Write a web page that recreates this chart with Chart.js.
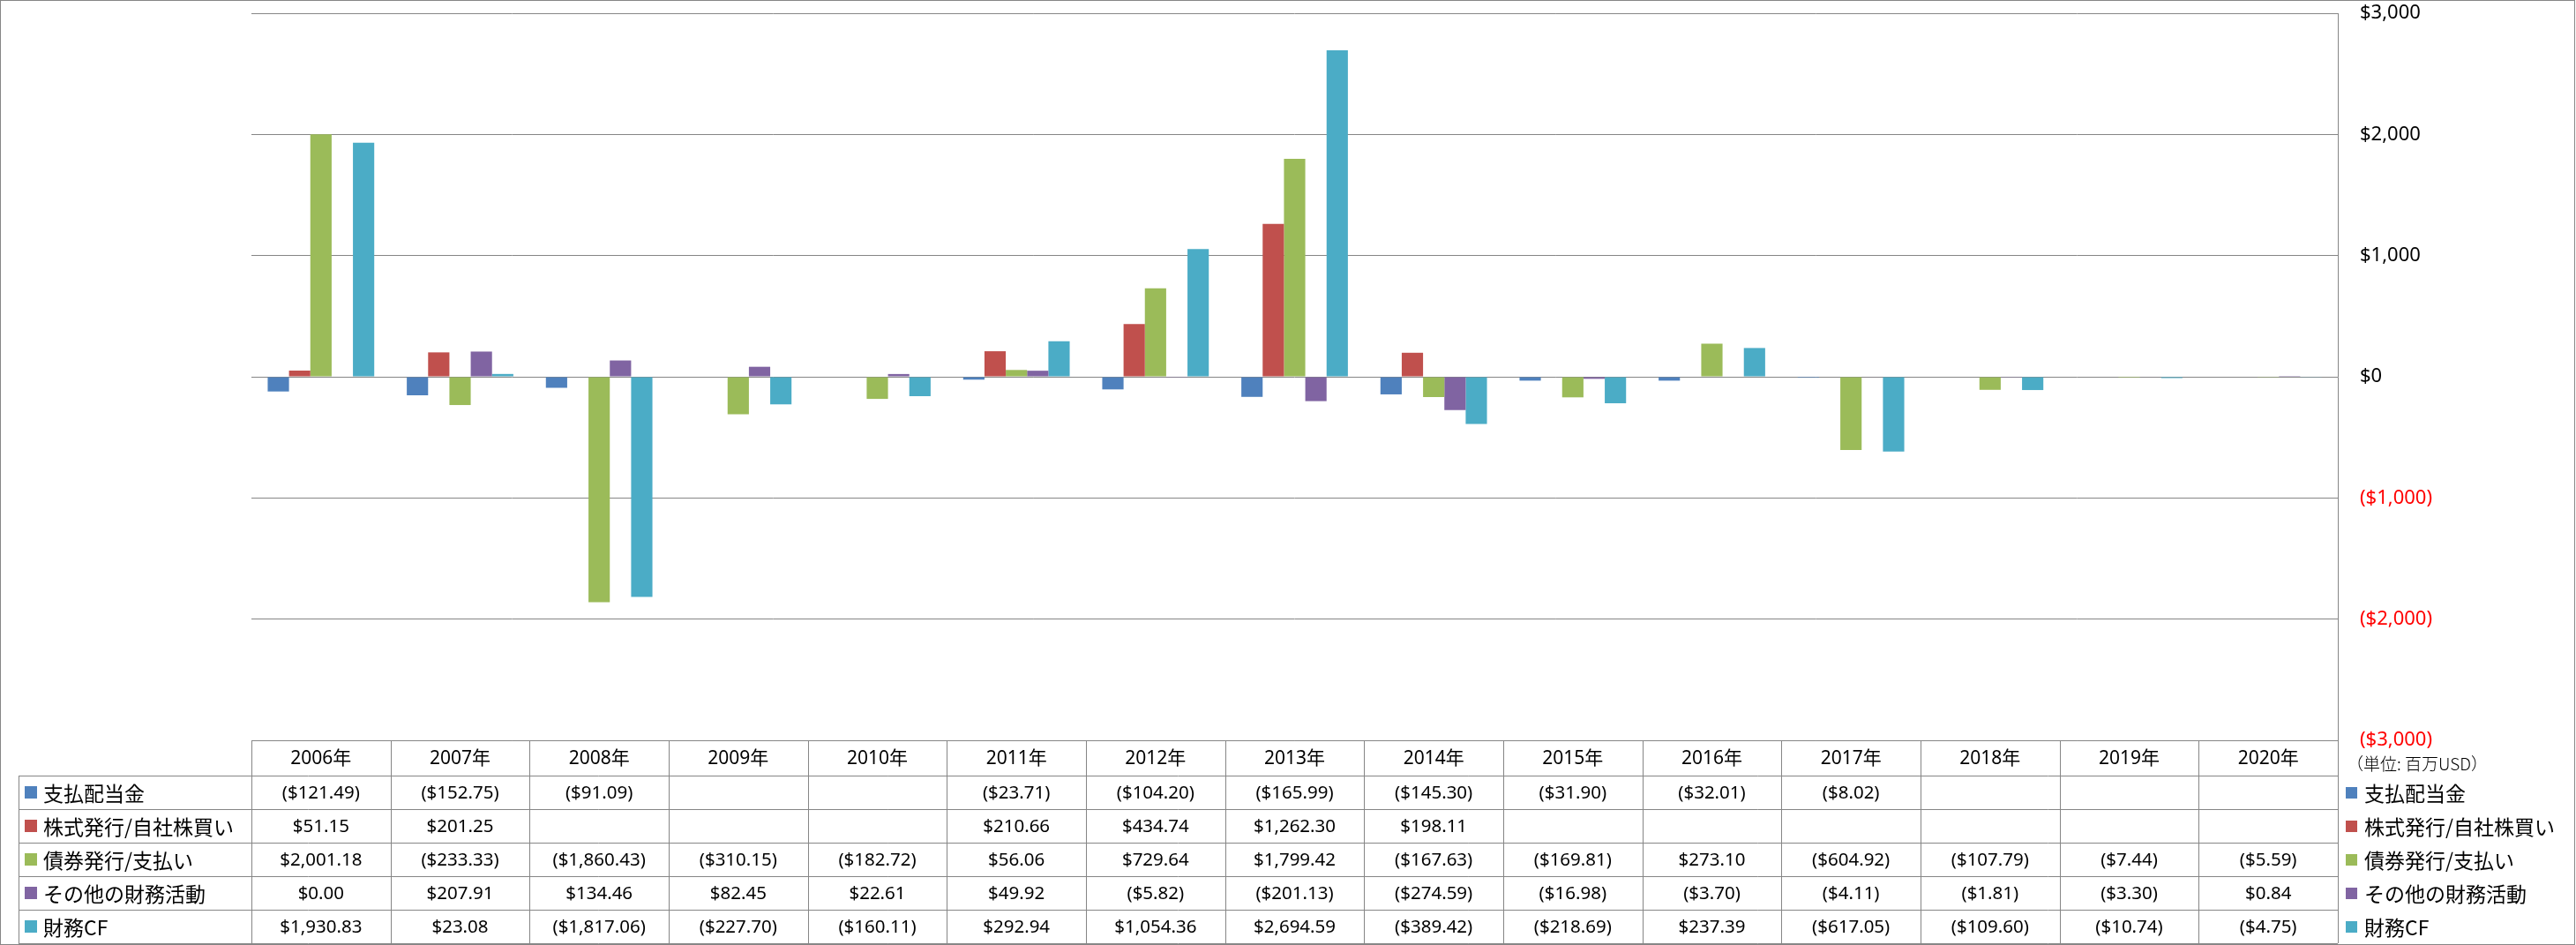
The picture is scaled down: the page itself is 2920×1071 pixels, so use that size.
<!DOCTYPE html>
<html><head><meta charset="utf-8">
<script src="https://cdn.jsdelivr.net/npm/chart.js@4.4.0/dist/chart.umd.min.js"></script>
<style>html,body{margin:0;padding:0;background:#fff;overflow:hidden}#wrap{position:relative;width:2920px;height:1071px}</style>
</head><body><div id="wrap"><canvas id="c" width="2920" height="1071"></canvas></div>
<script>
const categories = ['2006年','2007年','2008年','2009年','2010年','2011年','2012年','2013年','2014年','2015年','2016年','2017年','2018年','2019年','2020年'];
const seriesNames = ['支払配当金','株式発行/自社株買い','債券発行/支払い','その他の財務活動','財務CF'];
const dividends   = [-121.49,-152.75,-91.09,null,null,-23.71,-104.20,-165.99,-145.30,-31.90,-32.01,-8.02,null,null,null];
const equity      = [51.15,201.25,null,null,null,210.66,434.74,1262.30,198.11,null,null,null,null,null,null];
const debt        = [2001.18,-233.33,-1860.43,-310.15,-182.72,56.06,729.64,1799.42,-167.63,-169.81,273.10,-604.92,-107.79,-7.44,-5.59];
const other       = [0.00,207.91,134.46,82.45,22.61,49.92,-5.82,-201.13,-274.59,-16.98,-3.70,-4.11,-1.81,-3.30,0.84];
const financingCF = [1930.83,23.08,-1817.06,-227.70,-160.11,292.94,1054.36,2694.59,-389.42,-218.69,237.39,-617.05,-109.60,-10.74,-4.75];
const seriesColors = ['#4F81BD','#C0504D','#9BBB59','#8064A2','#4BACC6'];
const yTicks = [-3000,-2000,-1000,0,1000,2000,3000];
const unitLabel = '（単位: 百万USD）';

const seriesData = [dividends, equity, debt, other, financingCF];

function fmtMoney(v, dec){
  const s = Math.abs(v).toLocaleString('en-US',{minimumFractionDigits:dec,maximumFractionDigits:dec});
  return v < 0 ? '($' + s + ')' : '$' + s;
}

const GRID = '#868686';
function hline(ctx,x1,x2,y){ y=Math.round(y)+0.5; ctx.beginPath(); ctx.moveTo(x1,y); ctx.lineTo(x2,y); ctx.stroke(); }
function vline(ctx,x,y1,y2){ x=Math.round(x)+0.5; ctx.beginPath(); ctx.moveTo(x,y1); ctx.lineTo(x,y2); ctx.stroke(); }

const tablePlugin = {
  id:'dataTable',
  afterDraw(chart){
    const ctx = chart.ctx, ca = chart.chartArea, xs = chart.scales.x;
    const n = categories.length;
    const colW = (xs.right - xs.left)/n;
    const top = ca.bottom;
    const headH = 40, rowH = 38, labelLeft = 21;
    const rowsTop = top + headH;
    const bottom = rowsTop + rowH*seriesNames.length;
    ctx.save();
    ctx.strokeStyle = GRID; ctx.lineWidth = 1;
    hline(ctx, xs.left, xs.right, top);
    for(let r=0;r<=seriesNames.length;r++) hline(ctx, labelLeft, xs.right, rowsTop + r*rowH);
    vline(ctx, labelLeft, rowsTop, bottom);
    for(let c=0;c<=n;c++) vline(ctx, xs.left + c*colW, top, bottom);
    // header
    ctx.fillStyle = '#000'; ctx.textBaseline = 'middle'; ctx.textAlign = 'center';
    ctx.font = '21px "Noto Sans", "Noto Sans CJK JP"';
    categories.forEach((cat,i)=>{ ctx.fillText(cat, xs.getPixelForValue(i), top + headH/2 + 1); });
    // values
    ctx.font = '20.5px "Noto Sans", "Noto Sans CJK JP"';
    seriesData.forEach((arr,r)=>{
      const cy = rowsTop + r*rowH + rowH/2 + 1;
      arr.forEach((v,i)=>{ if(v!==null) ctx.fillText(fmtMoney(v,2), xs.getPixelForValue(i), cy); });
    });
    // row labels + right legend
    ctx.textAlign = 'left';
    ctx.font = '23px "Noto Sans CJK JP"';
    seriesNames.forEach((name,r)=>{
      const cy = rowsTop + r*rowH + rowH/2;
      ctx.fillStyle = seriesColors[r];
      ctx.fillRect(28, Math.round(cy-7), 14, 14);
      ctx.fillRect(xs.right + 9, Math.round(cy-6), 13, 13);
      ctx.fillStyle = '#000';
      ctx.fillText(name, 49, cy + 1);
      ctx.fillText(name, xs.right + 30, cy + 1);
    });
    // unit label
    ctx.font = '300 19px "Noto Sans CJK JP"';
    ctx.fillText(unitLabel, xs.right + 10, top + 27);
    // outer border
    ctx.strokeStyle = GRID;
    ctx.strokeRect(0.5, 0.5, chart.width - 2, chart.height - 1);
    ctx.restore();
  }
};

new Chart(document.getElementById('c'), {
  type:'bar',
  data:{
    labels: categories,
    datasets: seriesNames.map((name,i)=>({
      label: name, data: seriesData[i], backgroundColor: seriesColors[i], borderWidth:0,
      categoryPercentage: 0.766, barPercentage: 1.0
    }))
  },
  options:{
    responsive:false, animation:false, devicePixelRatio:1,
    layout:{ padding:{ left:285, top:15, right:0, bottom:232 } },
    plugins:{ legend:{display:false}, tooltip:{enabled:false} },
    scales:{
      x:{ display:false },
      y:{
        position:'right', min:-3000, max:3000,
        afterBuildTicks: s => { s.ticks = yTicks.map(v=>({value:v})); },
        afterFit: s => { s.width = 270; s.paddingTop = 0; s.paddingBottom = 0; },
        grid:{ color:GRID, lineWidth:1, drawTicks:false },
        border:{ display:true, color:GRID, width:1 },
        ticks:{
          padding:25, font:{ family:'"Noto Sans"', size:22 },
          color: c => (c.tick && c.tick.value < 0) ? '#FF0000' : '#000000',
          callback: v => fmtMoney(v,0)
        }
      }
    }
  },
  plugins:[tablePlugin]
});
</script></body></html>
